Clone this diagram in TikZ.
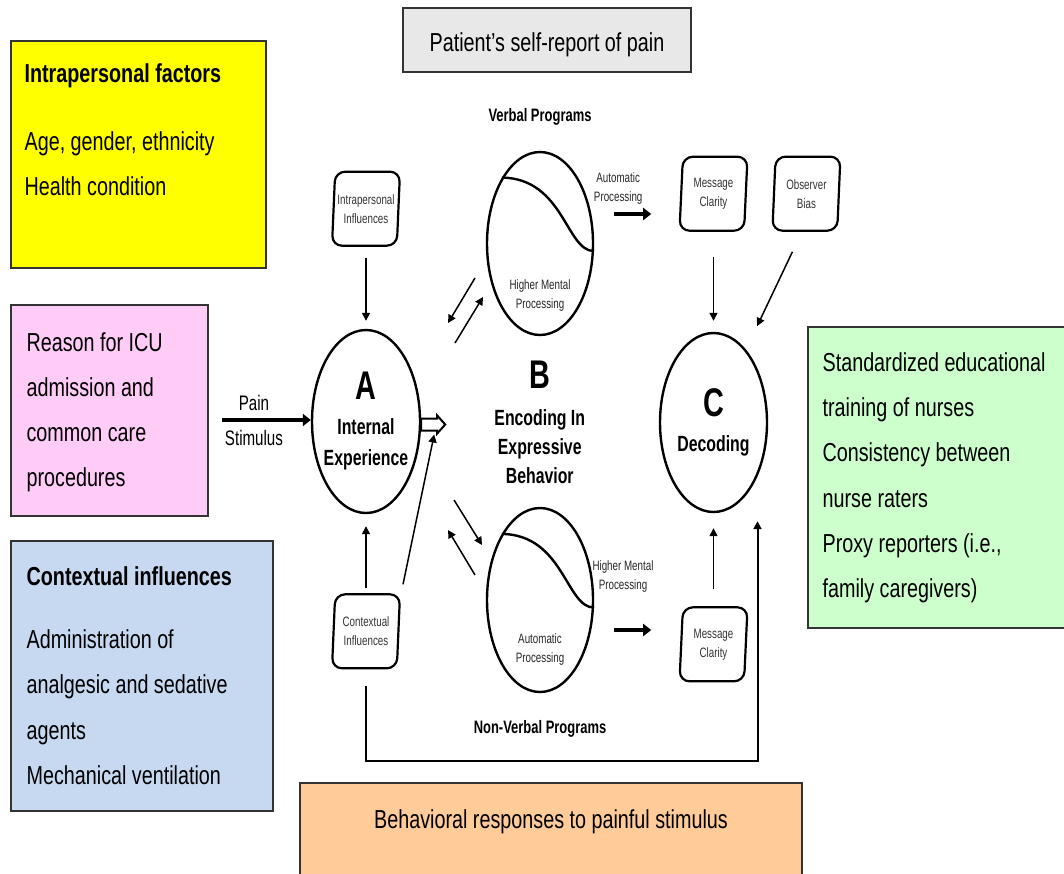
\documentclass[tikz,border=0pt]{standalone}
\usepackage{fontspec}
\newfontfamily\boxfont[FakeStretch=0.76]{Liberation Sans}
\newfontfamily\diagfont[FakeStretch=0.72]{Liberation Sans}
\usetikzlibrary{positioning,arrows.meta,fit,calc,shapes.geometric}

\definecolor{yelfill}{HTML}{FFFF00}
\definecolor{pinkfill}{HTML}{FFCCF7}
\definecolor{bluefill}{HTML}{C6D9F1}
\definecolor{greenfill}{HTML}{CCFFCC}
\definecolor{orangefill}{HTML}{FFCC99}
\definecolor{grayfill}{HTML}{E8E8E8}
\definecolor{edge}{HTML}{333333}

\begin{document}
\begin{tikzpicture}[
  x=0.5pt, y=-0.5pt,
  >={Triangle[length=4pt,width=4pt]},
  panel/.style={draw=edge, line width=0.8pt, inner sep=0pt},
  paneltxt/.style={font=\boxfont\fontsize{13}{22.5}\selectfont, align=left, anchor=north west, inner sep=0pt},
  oval/.style={draw, ellipse, line width=1.2pt, inner sep=0pt},
  slanted/.style={draw, trapezium, trapezium left angle=84, trapezium right angle=96,
                  trapezium stretches body, rounded corners=5pt, line width=1.1pt,
                  minimum width=34pt, minimum height=37pt, inner sep=0.3pt, align=center,
                  text=black!80, font=\diagfont\fontsize{6.8}{9.5}\selectfont},
  smalltxt/.style={font=\diagfont\fontsize{6.8}{9.5}\selectfont, align=center, inner sep=0pt, text=black!85},
  heading/.style={font=\diagfont\bfseries\fontsize{9}{11}\selectfont, inner sep=0pt},
  core/.style={font=\diagfont\bfseries\fontsize{11}{15.5}\selectfont, align=center, inner sep=0pt},
  link/.style={->, line width=0.75pt},
  fatlink/.style={-{Triangle[length=4pt,width=6pt]}, line width=1.6pt},
]
\useasboundingbox (0,0) rectangle (1064,873);
\clip (0,0) rectangle (1064,873);
% ---- coloured panels ----
\node[panel, fill=grayfill, fit={(403,8) (691,72)}] (selfrep) {};
\node[panel, fill=yelfill, fit={(11,41) (266,268)}] (intra) {};
\node[panel, fill=pinkfill, fit={(11,305) (208,516)}] (icu) {};
\node[panel, fill=bluefill, fit={(11,541) (273,811)}] (context) {};
\node[panel, fill=greenfill, fit={(808,327) (1075,628)}] (nurse) {};
\node[panel, fill=orangefill, fit={(300,783) (802,885)}] (behav) {};
% ---- panel texts ----
\node[font=\boxfont\fontsize{13}{15}\selectfont, anchor=base, inner sep=0pt]
  (selfreptxt) at ($(selfrep.north)+(0,44)$) {Patient’s self-report of pain};
\node[paneltxt] (intratxt) at ($(intra.north west)+(14,23)$)
  {{\bfseries Intrapersonal factors}\\[11.5pt]Age, gender, ethnicity\\Health condition};
\node[paneltxt] (icutxt) at ($(icu.north west)+(16,28)$)
  {Reason for ICU\\admission and\\common care\\procedures};
\node[paneltxt, font=\boxfont\fontsize{13}{22.6}\selectfont] (contexttxt) at ($(context.north west)+(16,26)$)
  {{\bfseries Contextual influences}\\[9pt]Administration of\\analgesic and sedative\\agents\\Mechanical ventilation};
\node[paneltxt, font=\boxfont\fontsize{13}{22.6}\selectfont] (nursetxt) at ($(nurse.north west)+(15,26)$)
  {Standardized educational\\training of nurses\\Consistency between\\nurse raters\\Proxy reporters (i.e.,\\family caregivers)};
\node[font=\boxfont\fontsize{13}{15}\selectfont, anchor=base, inner sep=0pt]
  (behavtxt) at ($(behav.north)+(0,46)$) {Behavioral responses to painful stimulus};
% ---- A, B, C ----
\node[oval, minimum width=54pt, minimum height=91.5pt] (A) at (366,421.5) {};
\node[oval, minimum width=53.5pt, minimum height=89.5pt] (C) at (713.5,422.5) {};
\node[core] (Atxt) at (A) {{\fontsize{20}{20}\selectfont A}\\[2pt]Internal\\Experience};
\node[core] (Ctxt) at (C) {{\fontsize{20}{20}\selectfont C}\\[2pt]Decoding};
\node[core, font=\diagfont\bfseries\fontsize{11}{14.5}\selectfont] (Btxt) at ($(A)!0.5!(C)$)
  {{\fontsize{20}{20}\selectfont B}\\[4pt]Encoding In\\Expressive\\Behavior};
% ---- verbal / non-verbal programs ----
\node[oval, minimum width=53pt, minimum height=91.5pt] (verb) at (540,243.5) {};
\node[oval, minimum width=53pt, minimum height=92pt] (nonverb) at (540,600) {};
\draw[line width=1.2pt] (verb.120) .. controls +(62,1) and +(-28,0) .. (verb.-8);
\draw[line width=1.2pt] (nonverb.120) .. controls +(62,1) and +(-28,0) .. (nonverb.-8);
\node[heading, anchor=base] (verbtitle) at ($(verb.north)+(0,-29)$) {Verbal Programs};
\node[heading, anchor=base] (nvtitle) at ($(nonverb.south)+(0,40)$) {Non-Verbal Programs};
\node[smalltxt] (verbhigh) at ($(verb)+(0,51.5)$) {Higher Mental\\Processing};
\node[smalltxt] (verbauto) at ($(verb.east)+(24,-55.5)$) {Automatic\\Processing};
\node[smalltxt] (nvauto) at ($(nonverb)+(0,49)$) {Automatic\\Processing};
\node[smalltxt] (nvhigh) at ($(nonverb)+(83,-24)$) {Higher Mental\\Processing};
% ---- influence boxes ----
\node[slanted, above=41pt of A] (intrabox) {Intrapersonal\\Influences};
\node[slanted, below=39.5pt of A] (ctxbox) {Contextual\\Influences};
\node[slanted, above=50pt of C] (clar1) {Message\\Clarity};
\node[slanted, right=13pt of clar1] (obs) {Observer\\Bias};
\node[slanted, below=46.5pt of C] (clar2) {Message\\Clarity};
% ---- pain stimulus ----
\coordinate (painin) at (222,420);
\draw[fatlink] (painin) -- (painin -| A.west)
  node[pos=0.36, above=4pt, inner sep=0pt, font=\diagfont\fontsize{10.5}{12}\selectfont] (paintxt) {Pain}
  node[pos=0.36, below=4.5pt, inner sep=0pt, font=\diagfont\fontsize{10.5}{12}\selectfont] (stimtxt) {Stimulus};
% ---- hollow arrow out of A ----
\draw[line width=1pt, fill=white] ($(A.east)+(0,-3)$) -- ++(16,0) -- ++(0,-3) -- ++(8,9)
  -- ++(-8,9) -- ++(0,-3) -- ++(-16,0) -- cycle;
% ---- connectors ----
\draw[link, shorten <=5.5pt, shorten >=4pt] (intrabox.south) -- (A.north);
\draw[link, shorten <=2.5pt, shorten >=6pt] (ctxbox.north) -- (A.south);
\draw[link] ($(ctxbox.north east)+(2,-12)$) -- ($(A.east)+(13,13)$);
\draw[link, shorten <=12.5pt, shorten >=5.5pt] (clar1.south) -- (C.north);
\draw[link, shorten <=8.5pt, shorten >=7.5pt] (clar2.north) -- (C.south);
\draw[link, shorten >=13pt] ($(obs.south)+(-14,20)$) -- (C.66);
\coordinate (vup) at (465,310);
\coordinate (vdn) at (465,537);
\draw[link] ($(vup)+(10,-32)$) -- ($(vup)+(-17,13)$);
\draw[link] ($(vup)+(-10,33)$) -- ($(vup)+(18,-13)$);
\draw[link] ($(vdn)+(-11,-37)$) -- ($(vdn)+(17,8)$);
\draw[link] ($(vdn)+(10,38)$) -- ($(vdn)+(-17,-7)$);
\draw[fatlink] ($(verb.east)+(20,-29.5)$) -- ++(37,0);
\draw[fatlink] ($(nonverb.east)+(20,30)$) -- ++(37,0);
% ---- feedback loop ----
\draw[link, line width=1pt] ($(ctxbox.south)+(0,17)$) -- ++(0,75) -| ($(C.south)+(44,8)$);
\end{tikzpicture}
\end{document}
